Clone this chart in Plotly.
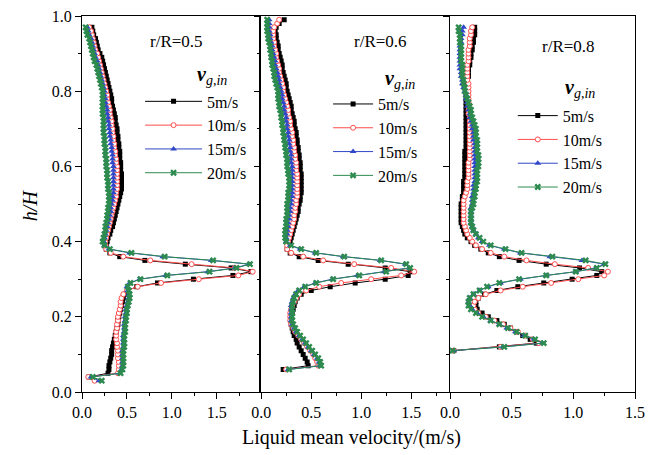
import plotly.graph_objects as go

# Shared height grid h/H (0.03 ... 0.99)
H = [0.03, 0.04, 0.05, 0.06, 0.07, 0.08, 0.09,
     0.10, 0.11, 0.12, 0.13, 0.14, 0.15, 0.16, 0.17, 0.18, 0.19,
     0.20, 0.21, 0.22, 0.23, 0.24, 0.25, 0.26, 0.27, 0.28, 0.29,
     0.30, 0.31, 0.32, 0.33, 0.34, 0.35, 0.36, 0.37, 0.38, 0.39,
     0.40, 0.41, 0.42, 0.43, 0.44, 0.45, 0.46, 0.47, 0.48, 0.49,
     0.50, 0.51, 0.52, 0.53, 0.54, 0.55, 0.56, 0.57, 0.58, 0.59,
     0.60, 0.61, 0.62, 0.63, 0.64, 0.65, 0.66, 0.67, 0.68, 0.69,
     0.70, 0.71, 0.72, 0.73, 0.74, 0.75, 0.76, 0.77, 0.78, 0.79,
     0.80, 0.81, 0.82, 0.83, 0.84, 0.85, 0.86, 0.87, 0.88, 0.89,
     0.90, 0.91, 0.92, 0.93, 0.94, 0.95, 0.96, 0.97, 0.98, 0.99]

SERIES_NAMES = ["5m/s", "10m/s", "15m/s", "20m/s"]
PANEL_LABELS = ["r/R=0.5", "r/R=0.6", "r/R=0.8"]
LEGEND_TITLE = "<b><i>v</i></b><sub><i>g,in</i></sub>"
X_TICKS = [0.0, 0.5, 1.0, 1.5]
Y_TICKS = [0.0, 0.2, 0.4, 0.6, 0.8, 1.0]

# ---------------- r/R = 0.5 ----------------
P1_5 = [None, 0.08, 0.29, 0.30, 0.30, 0.31, 0.32,
        0.33, 0.33, 0.34, 0.35, 0.36, 0.37, 0.38, 0.39, 0.40, 0.40,
        0.41, 0.42, 0.43, 0.44, 0.45, 0.46, 0.48, 0.51, 0.61, 0.84,
        1.24, 1.68, 1.88, 1.66, 1.15, 0.70, 0.42, 0.31, 0.27, 0.27,
        0.28, 0.29, 0.31, 0.32, 0.34, 0.35, 0.36, 0.37, 0.38, 0.39,
        0.40, 0.41, 0.42, 0.43, 0.44, 0.44, 0.44, 0.44, 0.44, 0.43,
        0.43, 0.43, 0.42, 0.42, 0.42, 0.41, 0.41, 0.40, 0.40, 0.39,
        0.39, 0.38, 0.37, 0.37, 0.36, 0.35, 0.34, 0.33, 0.33, 0.32,
        0.31, 0.30, 0.29, 0.28, 0.27, 0.26, 0.25, 0.24, 0.23, 0.22,
        0.20, 0.18, 0.17, 0.16, 0.15, 0.13, 0.12, 0.11, None, None]
P1_10 = [0.14, 0.07, 0.40, 0.41, 0.41, 0.41, 0.40,
         0.40, 0.40, 0.39, 0.39, 0.38, 0.38, 0.38, 0.39, 0.39, 0.40,
         0.40, 0.41, 0.42, 0.43, 0.43, 0.44, 0.46, 0.50, 0.62, 0.88,
         1.30, 1.74, 1.90, 1.70, 1.22, 0.76, 0.46, 0.32, 0.27, 0.26,
         0.26, 0.27, 0.28, 0.29, 0.30, 0.31, 0.32, 0.33, 0.34, 0.35,
         0.36, 0.37, 0.38, 0.38, 0.39, 0.39, 0.39, 0.39, 0.39, 0.39,
         0.39, 0.38, 0.38, 0.37, 0.37, 0.36, 0.36, 0.35, 0.35, 0.34,
         0.34, 0.33, 0.33, 0.32, 0.31, 0.31, 0.30, 0.29, 0.28, 0.28,
         0.27, 0.26, 0.25, 0.24, 0.23, 0.22, 0.21, 0.20, 0.19, 0.18,
         0.17, 0.15, 0.14, 0.13, 0.12, 0.11, 0.10, 0.08, None, None]
P1_15 = [0.19, 0.10, 0.42, 0.44, 0.45, 0.45, 0.45,
         0.45, 0.45, 0.46, 0.46, 0.46, 0.46, 0.47, 0.47, 0.47, 0.48,
         0.48, 0.49, 0.49, 0.50, 0.51, 0.52, 0.52, 0.51, 0.50, 0.53,
         0.64, 0.93, 1.40, 1.70, 1.86, 1.44, 0.90, 0.53, 0.30, 0.25,
         0.24, 0.25, 0.26, 0.27, 0.28, 0.29, 0.30, 0.31, 0.32, 0.32,
         0.33, 0.34, 0.34, 0.35, 0.35, 0.35, 0.35, 0.35, 0.35, 0.35,
         0.35, 0.34, 0.34, 0.34, 0.33, 0.33, 0.32, 0.32, 0.31, 0.31,
         0.30, 0.30, 0.29, 0.29, 0.28, 0.28, 0.27, 0.26, 0.26, 0.25,
         0.25, 0.24, 0.23, 0.22, 0.21, 0.20, 0.19, 0.18, 0.17, 0.15,
         0.14, 0.13, 0.12, 0.11, 0.10, 0.08, 0.07, 0.06, None, None]
P1_20 = [0.22, 0.12, 0.43, 0.45, 0.46, 0.46, 0.46,
         0.46, 0.46, 0.47, 0.47, 0.47, 0.47, 0.48, 0.48, 0.48, 0.49,
         0.49, 0.50, 0.50, 0.51, 0.52, 0.53, 0.53, 0.52, 0.51, 0.54,
         0.65, 0.95, 1.42, 1.72, 1.87, 1.46, 0.92, 0.55, 0.31, 0.25,
         0.23, 0.24, 0.25, 0.26, 0.26, 0.27, 0.28, 0.28, 0.29, 0.29,
         0.30, 0.30, 0.30, 0.30, 0.29, 0.29, 0.29, 0.28, 0.28, 0.28,
         0.27, 0.27, 0.27, 0.26, 0.26, 0.26, 0.25, 0.25, 0.25, 0.24,
         0.24, 0.24, 0.24, 0.24, 0.23, 0.23, 0.23, 0.23, 0.23, 0.23,
         0.23, 0.22, 0.21, 0.20, 0.19, 0.18, 0.17, 0.16, 0.14, 0.13,
         0.12, 0.11, 0.10, 0.09, 0.08, 0.06, 0.05, 0.04, None, None]

# ---------------- r/R = 0.6 ----------------
P2_5 = [None, None, None, 0.22, 0.47, 0.46, 0.44,
        0.42, 0.40, 0.38, 0.36, 0.35, 0.33, 0.32, 0.31, 0.30, 0.30,
        0.30, 0.31, 0.32, 0.33, 0.34, 0.36, 0.40, 0.50, 0.69, 0.94,
        1.24, 1.47, 1.49, 1.24, 0.87, 0.57, 0.38, 0.29, 0.26, 0.27,
        0.29, 0.30, 0.31, 0.32, 0.33, 0.34, 0.35, 0.36, 0.37, 0.37,
        0.38, 0.39, 0.39, 0.40, 0.40, 0.40, 0.40, 0.40, 0.40, 0.39,
        0.39, 0.39, 0.38, 0.38, 0.37, 0.37, 0.36, 0.36, 0.35, 0.35,
        0.34, 0.33, 0.33, 0.32, 0.31, 0.30, 0.30, 0.29, 0.28, 0.27,
        0.26, 0.25, 0.25, 0.24, 0.23, 0.22, 0.21, 0.21, 0.20, 0.19,
        0.18, 0.17, 0.17, 0.16, 0.15, 0.15, 0.14, 0.15, 0.18, 0.23]
P2_10 = [None, None, None, 0.25, 0.57, 0.56, 0.54,
         0.52, 0.49, 0.46, 0.43, 0.40, 0.37, 0.34, 0.32, 0.30, 0.29,
         0.29, 0.29, 0.30, 0.31, 0.33, 0.35, 0.38, 0.45, 0.58, 0.80,
         1.10, 1.40, 1.53, 1.30, 0.93, 0.62, 0.42, 0.30, 0.26, 0.26,
         0.27, 0.28, 0.29, 0.30, 0.31, 0.32, 0.33, 0.33, 0.34, 0.34,
         0.35, 0.35, 0.36, 0.36, 0.36, 0.36, 0.36, 0.36, 0.36, 0.35,
         0.35, 0.35, 0.34, 0.34, 0.33, 0.33, 0.32, 0.32, 0.31, 0.31,
         0.30, 0.29, 0.29, 0.28, 0.27, 0.27, 0.26, 0.25, 0.24, 0.23,
         0.22, 0.22, 0.21, 0.20, 0.19, 0.18, 0.18, 0.17, 0.16, 0.15,
         0.15, 0.14, 0.13, 0.13, 0.12, 0.12, 0.12, 0.13, 0.16, 0.18]
P2_15 = [None, None, None, 0.27, 0.59, 0.58, 0.56,
         0.53, 0.50, 0.47, 0.44, 0.41, 0.38, 0.35, 0.33, 0.31, 0.30,
         0.30, 0.30, 0.30, 0.30, 0.31, 0.32, 0.34, 0.37, 0.43, 0.54,
         0.71, 0.96, 1.23, 1.48, 1.44, 1.19, 0.82, 0.54, 0.39, 0.29,
         0.25, 0.25, 0.26, 0.26, 0.27, 0.27, 0.28, 0.28, 0.29, 0.29,
         0.30, 0.30, 0.31, 0.31, 0.31, 0.31, 0.31, 0.31, 0.31, 0.31,
         0.31, 0.30, 0.30, 0.30, 0.29, 0.29, 0.28, 0.28, 0.27, 0.27,
         0.26, 0.26, 0.25, 0.25, 0.24, 0.23, 0.23, 0.22, 0.21, 0.21,
         0.20, 0.19, 0.18, 0.18, 0.17, 0.16, 0.15, 0.14, 0.14, 0.13,
         0.12, 0.11, 0.11, 0.10, 0.09, 0.09, 0.08, 0.08, 0.08, 0.08]
P2_20 = [None, None, None, 0.28, 0.60, 0.59, 0.57,
         0.54, 0.51, 0.48, 0.45, 0.42, 0.39, 0.36, 0.34, 0.32, 0.31,
         0.31, 0.31, 0.31, 0.31, 0.32, 0.33, 0.35, 0.38, 0.44, 0.55,
         0.72, 0.98, 1.25, 1.49, 1.45, 1.20, 0.83, 0.55, 0.40, 0.30,
         0.25, 0.24, 0.24, 0.24, 0.25, 0.25, 0.25, 0.26, 0.26, 0.26,
         0.26, 0.27, 0.27, 0.27, 0.28, 0.28, 0.28, 0.28, 0.27, 0.27,
         0.26, 0.26, 0.26, 0.25, 0.25, 0.24, 0.24, 0.23, 0.23, 0.22,
         0.22, 0.21, 0.21, 0.20, 0.20, 0.19, 0.18, 0.18, 0.17, 0.17,
         0.17, 0.16, 0.15, 0.14, 0.13, 0.13, 0.12, 0.11, 0.11, 0.10,
         0.10, 0.09, 0.09, 0.08, 0.07, 0.07, 0.06, 0.06, 0.06, 0.06]

# ---------------- r/R = 0.8 ----------------
P3_5 = [None, None, None, None, None, None, None,
        None, 0.03, 0.40, 0.70, 0.65, 0.59, 0.54, 0.49, 0.44, 0.38,
        0.31, 0.26, 0.22, 0.21, 0.21, 0.23, 0.28, 0.38, 0.55, 0.76,
        0.99, 1.19, 1.23, 1.05, 0.78, 0.56, 0.40, 0.31, 0.25, 0.20,
        0.17, 0.14, 0.12, 0.11, 0.10, 0.09, 0.09, 0.09, 0.09, 0.09,
        0.09, 0.10, 0.10, 0.11, 0.11, 0.11, 0.11, 0.12, 0.12, 0.12,
        0.12, 0.12, 0.12, 0.12, 0.12, 0.13, 0.13, 0.13, 0.13, 0.13,
        0.13, 0.13, 0.13, 0.13, 0.13, 0.13, 0.13, 0.13, 0.13, 0.13,
        0.13, 0.14, 0.14, 0.14, 0.15, 0.15, 0.15, 0.16, 0.16, 0.17,
        0.17, 0.18, 0.18, 0.19, 0.19, 0.20, 0.20, 0.20, None, None]
P3_10 = [None, None, None, None, None, None, None,
         None, 0.03, 0.41, 0.72, 0.67, 0.61, 0.55, 0.49, 0.43, 0.36,
         0.29, 0.23, 0.20, 0.19, 0.20, 0.23, 0.29, 0.41, 0.59, 0.82,
         1.04, 1.25, 1.28, 1.12, 0.85, 0.62, 0.44, 0.33, 0.26, 0.21,
         0.18, 0.16, 0.14, 0.13, 0.12, 0.11, 0.11, 0.11, 0.11, 0.11,
         0.11, 0.11, 0.12, 0.13, 0.14, 0.14, 0.14, 0.15, 0.15, 0.15,
         0.15, 0.15, 0.16, 0.16, 0.16, 0.16, 0.16, 0.16, 0.16, 0.16,
         0.16, 0.16, 0.16, 0.16, 0.15, 0.15, 0.15, 0.15, 0.15, 0.15,
         0.15, 0.15, 0.15, 0.14, 0.14, 0.14, 0.14, 0.14, 0.15, 0.15,
         0.15, 0.15, 0.16, 0.16, 0.16, 0.17, 0.17, 0.18, None, None]
P3_15 = [None, None, None, None, None, None, None,
         None, 0.03, 0.43, 0.75, 0.68, 0.60, 0.53, 0.46, 0.40, 0.33,
         0.27, 0.22, 0.18, 0.16, 0.15, 0.16, 0.19, 0.24, 0.31, 0.41,
         0.57, 0.78, 1.02, 1.18, 1.25, 1.07, 0.81, 0.57, 0.44, 0.32,
         0.26, 0.23, 0.21, 0.19, 0.18, 0.17, 0.17, 0.17, 0.17, 0.17,
         0.18, 0.18, 0.18, 0.19, 0.19, 0.19, 0.20, 0.20, 0.20, 0.20,
         0.20, 0.20, 0.20, 0.20, 0.20, 0.20, 0.20, 0.19, 0.19, 0.19,
         0.18, 0.18, 0.17, 0.16, 0.16, 0.15, 0.14, 0.14, 0.13, 0.13,
         0.12, 0.11, 0.10, 0.10, 0.09, 0.09, 0.08, 0.08, 0.08, 0.08,
         0.08, 0.08, 0.08, 0.09, 0.09, 0.10, 0.10, 0.11, None, None]
P3_20 = [None, None, None, None, None, None, None,
         None, 0.02, 0.44, 0.76, 0.69, 0.61, 0.54, 0.47, 0.40, 0.33,
         0.26, 0.21, 0.17, 0.15, 0.15, 0.16, 0.19, 0.24, 0.30, 0.40,
         0.56, 0.78, 1.02, 1.19, 1.26, 1.10, 0.83, 0.58, 0.45, 0.33,
         0.27, 0.24, 0.21, 0.19, 0.18, 0.17, 0.17, 0.17, 0.17, 0.18,
         0.19, 0.19, 0.20, 0.20, 0.21, 0.21, 0.22, 0.22, 0.22, 0.22,
         0.23, 0.23, 0.23, 0.23, 0.22, 0.22, 0.22, 0.22, 0.21, 0.21,
         0.21, 0.20, 0.19, 0.18, 0.17, 0.17, 0.16, 0.15, 0.14, 0.13,
         0.12, 0.12, 0.11, 0.11, 0.10, 0.10, 0.10, 0.10, 0.09, 0.09,
         0.09, 0.09, 0.09, 0.08, 0.08, 0.08, 0.07, 0.07, None, None]

PANELS = [[P1_5, P1_10, P1_15, P1_20],
          [P2_5, P2_10, P2_15, P2_20],
          [P3_5, P3_10, P3_15, P3_20]]

# ---------------- styling ----------------
FONT = "Liberation Serif, Times New Roman, serif"
LINE_COLORS = ["#000000", "#ff4d4d", "#3048c8", "#2e8b50"]
MARKERS = [
    dict(symbol="square", size=5, color="#000000", line=dict(width=0)),
    dict(symbol="circle", size=5, color="#ffffff", line=dict(width=1, color="#ff4d4d")),
    dict(symbol="triangle-up", size=6, color="#3048c8", line=dict(width=0)),
    dict(symbol="x", size=6, color="#2e8b50", line=dict(width=0)),
]

fig = go.Figure()
axes_ids = ["", "2", "3"]
legends = ["legend", "legend2", "legend3"]
for p, series_set in enumerate(PANELS):
    for s, vals in enumerate(series_set):
        fig.add_trace(go.Scatter(
            x=vals, y=H, mode="lines+markers", name=SERIES_NAMES[s],
            line=dict(color=LINE_COLORS[s], width=1),
            marker=MARKERS[s],
            xaxis="x" + axes_ids[p], yaxis="y" + axes_ids[p],
            legend=legends[p],
        ))

domains = [[0.0, 0.320], [0.324, 0.664], [0.6655, 1.0]]
xranges = [[0, 1.97], [0, 1.88], [0, 1.5]]

tickfont = dict(family=FONT, size=16, color="black")
layout = dict(
    width=658, height=455,
    margin=dict(l=82, r=23, t=16, b=63, autoexpand=False),
    paper_bgcolor="white", plot_bgcolor="white",
    showlegend=True,
    font=dict(family=FONT, color="black"),
)
for p in range(3):
    xa = dict(domain=domains[p], range=xranges[p], anchor="y" + axes_ids[p],
              tickvals=X_TICKS, ticktext=[f"{v:.1f}" for v in X_TICKS],
              ticks="outside", ticklen=6, tickwidth=1, tickcolor="black",
              minor=dict(ticks="outside", dtick=0.25, tick0=0, ticklen=3, tickcolor="black"),
              showline=True, linecolor="black", linewidth=1.3, mirror=True,
              showgrid=False, zeroline=False, tickfont=tickfont)
    ya = dict(domain=[0, 1], range=[0, 1], anchor="x" + axes_ids[p],
              tickvals=Y_TICKS, ticks="outside", ticklen=6, tickwidth=1, tickcolor="black",
              minor=dict(ticks="outside", dtick=0.1, tick0=0, ticklen=3, tickcolor="black"),
              showline=True, linecolor="black", linewidth=1.3, mirror=True,
              showgrid=False, zeroline=False, tickfont=tickfont,
              showticklabels=(p == 0))
    if p == 0:
        ya["ticktext"] = [f"{v:.1f}" for v in Y_TICKS]
    layout["xaxis" + axes_ids[p]] = xa
    layout["yaxis" + axes_ids[p]] = ya

legend_pos = [(0.105, 0.818), (0.445, 0.811), (0.779, 0.780)]
legend_itemw = [57, 40, 40]
for p in range(3):
    layout[legends[p]] = dict(
        x=legend_pos[p][0], y=legend_pos[p][1], xanchor="left", yanchor="top",
        xref="paper", yref="paper",
        bgcolor="rgba(0,0,0,0)", borderwidth=0,
        font=dict(family=FONT, size=16, color="black"),
        itemwidth=legend_itemw[p], tracegroupgap=0,
    )

fig.update_layout(**layout)

label_pos = [(0.170, 0.931), (0.539, 0.931), (0.879, 0.918)]
title_pos = [(0.204, 0.843), (0.544, 0.830), (0.870, 0.806)]
for p in range(3):
    fig.add_annotation(text=PANEL_LABELS[p], x=label_pos[p][0], y=label_pos[p][1],
                       xref="paper", yref="paper", showarrow=False,
                       xanchor="center", yanchor="middle",
                       font=dict(family=FONT, size=17, color="black"))
    fig.add_annotation(text=LEGEND_TITLE, x=title_pos[p][0], y=title_pos[p][1],
                       xref="paper", yref="paper", showarrow=False,
                       xanchor="left", yanchor="middle",
                       font=dict(family=FONT, size=20, color="black"))

fig.add_annotation(text="Liquid mean velocity/(m/s)", x=0.488, y=-0.122,
                   xref="paper", yref="paper", showarrow=False,
                   xanchor="center", yanchor="middle",
                   font=dict(family=FONT, size=20, color="black"))
fig.add_annotation(text="<i>h/H</i>", x=-0.094, y=0.497, textangle=-90,
                   xref="paper", yref="paper", showarrow=False,
                   xanchor="center", yanchor="middle",
                   font=dict(family=FONT, size=20, color="black"))

fig.write_html("out.html")
